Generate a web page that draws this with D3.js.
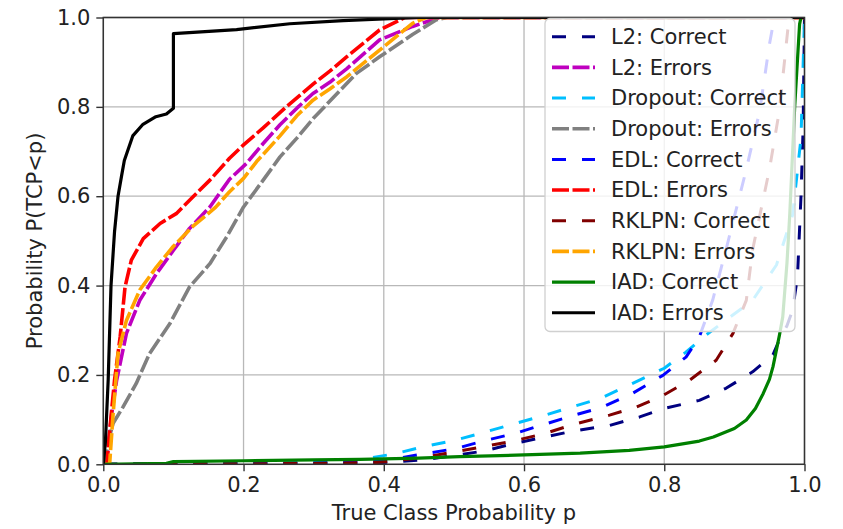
<!DOCTYPE html>
<html>
<head>
<meta charset="utf-8">
<script src="https://cdn.jsdelivr.net/npm/d3@7"></script>
<style>
  body { margin: 0; background: #fff; }
  text { font-family: "DejaVu Sans", sans-serif; fill: #222; }
</style>
</head>
<body>
<div id="chart"></div>
<script>
// ---- data: [p, P(TCP<p)] ----
const seriesNames = ["L2: Correct", "L2: Errors", "Dropout: Correct", "Dropout: Errors",
  "EDL: Correct", "EDL: Errors", "RKLPN: Correct", "RKLPN: Errors", "IAD: Correct", "IAD: Errors"];

const l2Correct = [[0,0],[0.1,0.001],[0.2,0.001],[0.3,0.002],[0.4,0.004],[0.456,0.01],[0.502,0.02],
  [0.544,0.03],[0.587,0.047],[0.63,0.061],[0.672,0.075],[0.722,0.087],[0.765,0.106],[0.8,0.125],
  [0.85,0.143],[0.888,0.17],[0.926,0.207],[0.955,0.245],[0.964,0.278],[0.975,0.31],[0.983,0.345],
  [0.99,0.42],[0.995,0.6],[0.998,0.75],[1,1]];
const l2Errors = [[0,0],[0.004,0],[0.007,0.039],[0.012,0.113],[0.019,0.188],[0.033,0.293],[0.052,0.367],
  [0.076,0.427],[0.1,0.479],[0.123,0.528],[0.152,0.576],[0.18,0.638],[0.204,0.673],[0.228,0.718],
  [0.252,0.76],[0.276,0.797],[0.299,0.83],[0.323,0.855],[0.347,0.885],[0.394,0.95],[0.441,0.98],
  [0.47,0.995],[0.48,1],[1,1]];
const dropoutCorrect = [[0,0],[0.1,0.001],[0.2,0.002],[0.3,0.004],[0.35,0.008],[0.375,0.013],[0.414,0.023],
  [0.456,0.039],[0.502,0.054],[0.544,0.072],[0.587,0.091],[0.63,0.11],[0.672,0.13],[0.708,0.147],
  [0.755,0.181],[0.8,0.215],[0.83,0.25],[0.86,0.29],[0.89,0.325],[0.926,0.367],[0.96,0.446],
  [0.983,0.558],[0.995,0.73],[1,1]];
const dropoutErrors = [[0,0],[0.003,0],[0.005,0.039],[0.014,0.092],[0.028,0.128],[0.047,0.181],[0.066,0.248],
  [0.095,0.315],[0.123,0.397],[0.152,0.449],[0.176,0.509],[0.2,0.576],[0.228,0.636],[0.252,0.688],
  [0.276,0.73],[0.3,0.775],[0.338,0.837],[0.361,0.875],[0.394,0.912],[0.441,0.962],[0.475,0.995],
  [0.49,1],[1,1]];
const edlCorrect = [[0,0],[0.1,0.001],[0.2,0.002],[0.3,0.003],[0.38,0.006],[0.414,0.012],[0.456,0.023],
  [0.502,0.035],[0.544,0.053],[0.587,0.069],[0.63,0.09],[0.672,0.11],[0.712,0.128],[0.755,0.159],
  [0.798,0.199],[0.831,0.24],[0.85,0.285],[0.869,0.367],[0.888,0.48],[0.917,0.66],[0.936,0.79],
  [0.95,0.94],[0.957,1],[1,1]];
const edlErrors = [[0,0],[0.005,0],[0.01,0.09],[0.016,0.188],[0.024,0.285],[0.031,0.397],[0.04,0.457],
  [0.057,0.505],[0.081,0.539],[0.104,0.561],[0.128,0.599],[0.152,0.636],[0.18,0.685],[0.2,0.715],
  [0.228,0.753],[0.261,0.8],[0.3,0.852],[0.323,0.88],[0.347,0.912],[0.394,0.972],[0.43,1],[1,1]];
const rklpnCorrect = [[0,0],[0.1,0.001],[0.2,0.001],[0.3,0.002],[0.39,0.004],[0.414,0.008],[0.456,0.015],
  [0.502,0.028],[0.544,0.04],[0.587,0.053],[0.63,0.069],[0.672,0.09],[0.722,0.11],[0.76,0.128],
  [0.798,0.154],[0.836,0.188],[0.874,0.233],[0.898,0.293],[0.917,0.367],[0.926,0.48],[0.95,0.66],
  [0.964,0.79],[0.974,0.94],[0.978,1],[1,1]];
const rklpnErrors = [[0,0],[0.009,0],[0.014,0.113],[0.021,0.248],[0.033,0.322],[0.052,0.39],[0.076,0.442],
  [0.1,0.488],[0.128,0.533],[0.16,0.575],[0.18,0.61],[0.2,0.64],[0.22,0.68],[0.252,0.735],[0.276,0.78],
  [0.299,0.815],[0.323,0.84],[0.347,0.867],[0.394,0.927],[0.441,0.987],[0.46,1],[1,1]];
const iadCorrect = [[0,0],[0.09,0.002],[0.1,0.006],[0.2,0.008],[0.3,0.01],[0.366,0.011],[0.45,0.014],
  [0.508,0.017],[0.6,0.021],[0.68,0.025],[0.75,0.031],[0.8,0.039],[0.85,0.052],[0.87,0.061],[0.9,0.08],
  [0.917,0.099],[0.93,0.125],[0.941,0.158],[0.95,0.19],[0.955,0.218],[0.964,0.287],[0.969,0.33],
  [0.975,0.45],[0.979,0.56],[0.986,0.8],[0.993,0.985],[0.995,1],[1,1]];
const iadErrors = [[0,0],[0.003,0.05],[0.007,0.19],[0.011,0.4],[0.016,0.52],[0.021,0.6],[0.026,0.645],
  [0.03,0.68],[0.042,0.735],[0.056,0.76],[0.075,0.778],[0.09,0.784],[0.1,0.797],[0.1,0.964],
  [0.19,0.973],[0.266,0.986],[0.342,0.993],[0.45,1],[1,1]];

const xTicks = [0, 0.2, 0.4, 0.6, 0.8, 1.0];
const yTicks = [0, 0.2, 0.4, 0.6, 0.8, 1.0];

const seriesData = [l2Correct, l2Errors, dropoutCorrect, dropoutErrors, edlCorrect, edlErrors,
  rklpnCorrect, rklpnErrors, iadCorrect, iadErrors];

// ---- styles (matplotlib-ish) ----
const colors = ["#000080", "#bf00bf", "#00bfff", "#808080", "#0000ff", "#ff0000",
  "#800000", "#ffa500", "#008000", "#000000"];
const dashCorrect = "14,16", dashErrors = "17,3.5";
const styles = seriesNames.map((n, i) => {
  if (n.startsWith("IAD")) return {color: colors[i], dash: null, width: 3.2};
  if (n.endsWith("Correct")) return {color: colors[i], dash: dashCorrect, width: 3};
  return {color: colors[i], dash: dashErrors, width: 3.6};
});
const fontSize = "21px";

const W = 843, H = 529;
const margin = {top: 17.5, right: 38.5, bottom: 64.7, left: 103.3};
const w = W - margin.left - margin.right,
      h = H - margin.top - margin.bottom;

const svg = d3.select("#chart").append("svg")
    .attr("width", W)
    .attr("height", H)
  .append("g")
    .attr("transform", "translate(" + margin.left + "," + margin.top + ")");

const x = d3.scaleLinear().domain([0, 1]).range([0, w]);
const y = d3.scaleLinear().domain([0, 1]).range([h, 0]);

// grid
svg.append("g").selectAll("line").data(xTicks).enter().append("line")
  .attr("x1", d => x(d)).attr("x2", d => x(d)).attr("y1", 0).attr("y2", h)
  .style("stroke", "#b8b8b8").style("stroke-width", 1.3);
svg.append("g").selectAll("line").data(yTicks).enter().append("line")
  .attr("y1", d => y(d)).attr("y2", d => y(d)).attr("x1", 0).attr("x2", w)
  .style("stroke", "#b8b8b8").style("stroke-width", 1.3);

// curves
svg.append("clipPath").attr("id", "clip")
  .append("rect").attr("width", w).attr("height", h);

const line = d3.line().x(d => x(d[0])).y(d => y(d[1]));

svg.append("g").attr("clip-path", "url(#clip)")
  .selectAll("path").data(seriesData).enter().append("path")
    .attr("d", line)
    .style("fill", "none")
    .style("stroke", (d, i) => styles[i].color)
    .style("stroke-width", (d, i) => styles[i].width)
    .style("stroke-dasharray", (d, i) => styles[i].dash)
    .style("stroke-linejoin", "round");

// axes
const xAxis = svg.append("g").attr("transform", "translate(0," + h + ")")
  .call(d3.axisBottom(x).tickValues(xTicks).tickFormat(d3.format(".1f")).tickSize(7).tickPadding(6));
const yAxis = svg.append("g")
  .call(d3.axisLeft(y).tickValues(yTicks).tickFormat(d3.format(".1f")).tickSize(7).tickPadding(6));
[xAxis, yAxis].forEach(a => {
  a.select(".domain").remove();
  a.selectAll(".tick line").style("stroke", "#333").style("stroke-width", 1.4);
  a.selectAll(".tick text").style("font-size", fontSize).style("fill", "#222");
});

// frame
svg.append("rect").attr("width", w).attr("height", h)
  .style("fill", "none").style("stroke", "#333").style("stroke-width", 1.5);

// axis titles
svg.append("text")
  .attr("x", w / 2).attr("y", h + 56)
  .style("text-anchor", "middle").style("font-size", fontSize)
  .text("True Class Probability p");
svg.append("text")
  .attr("transform", "translate(" + (-61) + "," + (h / 2) + ") rotate(-90)")
  .style("text-anchor", "middle").style("font-size", fontSize)
  .text("Probability P(TCP<p)");

// legend
const lg = svg.append("g").attr("transform", "translate(" + (w - 259.5) + ",1)");
lg.append("rect")
  .attr("width", 250).attr("height", 313).attr("rx", 5)
  .style("fill", "#fff").style("fill-opacity", 0.8)
  .style("stroke", "#d0d0d0").style("stroke-width", 1.3);
const rows = lg.selectAll("g.row").data(seriesNames).enter().append("g")
  .attr("class", "row")
  .attr("transform", (d, i) => "translate(0," + (18.2 + i * 30.67) + ")");
rows.append("line")
  .attr("x1", 7).attr("x2", 50).attr("y1", 0).attr("y2", 0)
  .style("stroke", (d, i) => styles[i].color)
  .style("stroke-width", (d, i) => styles[i].width)
  .style("stroke-dasharray", (d, i) => styles[i].dash);
rows.append("text")
  .attr("x", 66).attr("y", 0).attr("dy", "0.35em")
  .style("font-size", fontSize)
  .text(d => d);
</script>
</body>
</html>
